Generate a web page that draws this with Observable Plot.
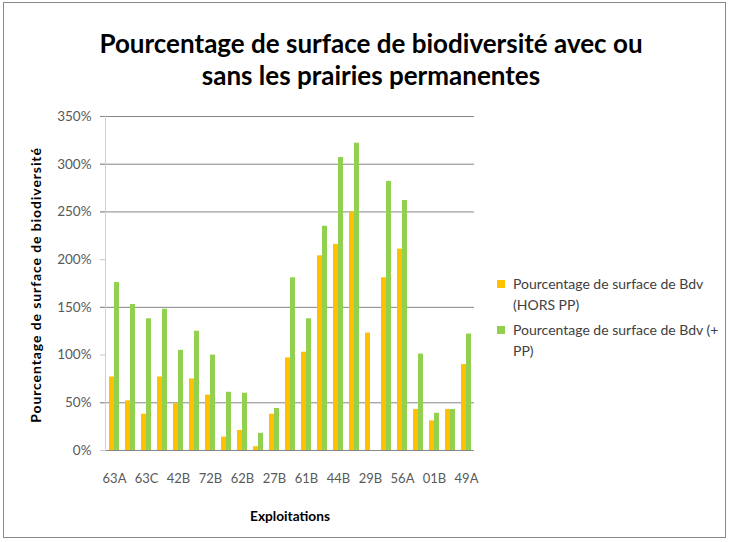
<!DOCTYPE html>
<html>
<head>
<meta charset="utf-8">
<script src="https://cdn.jsdelivr.net/npm/d3@7"></script>
<script src="https://cdn.jsdelivr.net/npm/@observablehq/plot@0.6"></script>
<style>
  html, body { margin: 0; padding: 0; background: #fff; }
  #wrap { position: relative; width: 730px; height: 542px; overflow: hidden; font-family: Lato, "Open Sans", sans-serif; }
  #box { position: absolute; left: 3px; top: 2px; width: 723px; height: 536px; border: 1px solid #888; box-sizing: border-box; }
  #title { position: absolute; left: 6px; width: 730px; top: 27px; text-align: center; font-weight: bold; font-size: 26px; line-height: 32px; color: #000; }
  #ytitle { position: absolute; left: 35px; top: 285px; transform: translate(-50%, -50%) rotate(-90deg); white-space: nowrap; font-weight: bold; font-size: 14px; letter-spacing: 0.9px; color: #000; }
  #xtitle { position: absolute; left: 290px; top: 515px; transform: translate(-50%, -50%); white-space: nowrap; font-weight: bold; font-size: 13.7px; color: #000; }
  #legend { position: absolute; left: 497px; top: 273px; font-size: 14px; color: #404040; line-height: 21px; }
  .item { position: relative; padding-left: 16px; margin-bottom: 4px; }
  .sw { position: absolute; left: 0; top: 7px; width: 8px; height: 8px; }
  svg { position: absolute; left: 0; top: 0; }
</style>
</head>
<body>
<div id="wrap">
  <div id="box"></div>
  <div id="title">Pourcentage de surface de biodiversité avec ou<br>sans les prairies permanentes</div>
  <div id="ytitle">Pourcentage de surface de biodiversité</div>
  <div id="xtitle">Exploitations</div>
  <div id="legend"></div>
</div>
<script>
// Categories (every other label shown on the axis; hidden ones are unlabeled in the source)
const exploitations = ["63A","(2)","63C","(4)","42B","(6)","72B","(8)","62B","(10)","27B","(12)",
                       "61B","(14)","44B","(16)","29B","(18)","56A","(20)","01B","(22)","49A"];
const shownLabels = ["63A","63C","42B","72B","62B","27B","61B","44B","29B","56A","01B","49A"];
// Series values (%)
const horsPP = [77,52,38,77,49,75,58,14,21,4,38,97,103,204,216,250,123,181,211,43,31,43,90];
const avecPP = [176,153,138,148,105,125,100,61,60,18,44,181,138,235,307,322,null,282,262,101,39,43,122];
const seriesNames = ["Pourcentage de surface de Bdv (HORS PP)", "Pourcentage de surface de Bdv (+ PP)"];
const seriesColors = ["#FFC000", "#92D050"];
const yTicks = [0,50,100,150,200,250,300,350];
const gridLines = [50,150,250,300,350];   // gridlines visible in the source picture

const rows = exploitations.map((e, i) => ({e, hors: horsPP[i], avec: avecPP[i]}));

const chart = Plot.plot({
  width: 730,
  height: 542,
  marginLeft: 105,
  marginRight: 256,
  marginTop: 116,
  marginBottom: 92,
  style: {fontFamily: "Lato, 'Open Sans', sans-serif", fontSize: "13.5px", color: "#595959", background: "transparent"},
  x: {domain: exploitations, padding: 0, label: null},
  y: {domain: [0, 350], label: null},
  marks: [
    Plot.axisY(yTicks, {tickSize: 5, tickPadding: 9, stroke: "#c8c8c8", tickFormat: d => d + "%", fill: "#595959", label: null}),
    Plot.ruleY(gridLines, {stroke: "#868686", insetLeft: -5}),
    Plot.axisX({tickSize: 0, tickPadding: 23, fontSize: 13, tickFormat: d => shownLabels.includes(d) ? d : "", fill: "#595959", label: null}),
    Plot.barY(rows, {x: "e", y: "hors", fill: seriesColors[0], insetLeft: 3, insetRight: 8}),
    Plot.barY(rows.filter(r => r.avec != null), {x: "e", y: "avec", fill: seriesColors[1], insetLeft: 8, insetRight: 3}),
    Plot.ruleY([0], {stroke: "#868686"}),
    Plot.frame({anchor: "left", stroke: "#d0d0d0"})
  ]
});
document.getElementById("wrap").insertBefore(chart, document.getElementById("title"));

const legend = document.getElementById("legend");
const legendLines = [["Pourcentage de surface de Bdv", "(HORS PP)"], ["Pourcentage de surface de Bdv (+", "PP)"]];
seriesNames.forEach((n, i) => {
  const div = document.createElement("div");
  div.className = "item";
  div.innerHTML = `<span class="sw" style="background:${seriesColors[i]}"></span>${legendLines[i][0]}<br>${legendLines[i][1]}`;
  legend.appendChild(div);
});
</script>
</body>
</html>
